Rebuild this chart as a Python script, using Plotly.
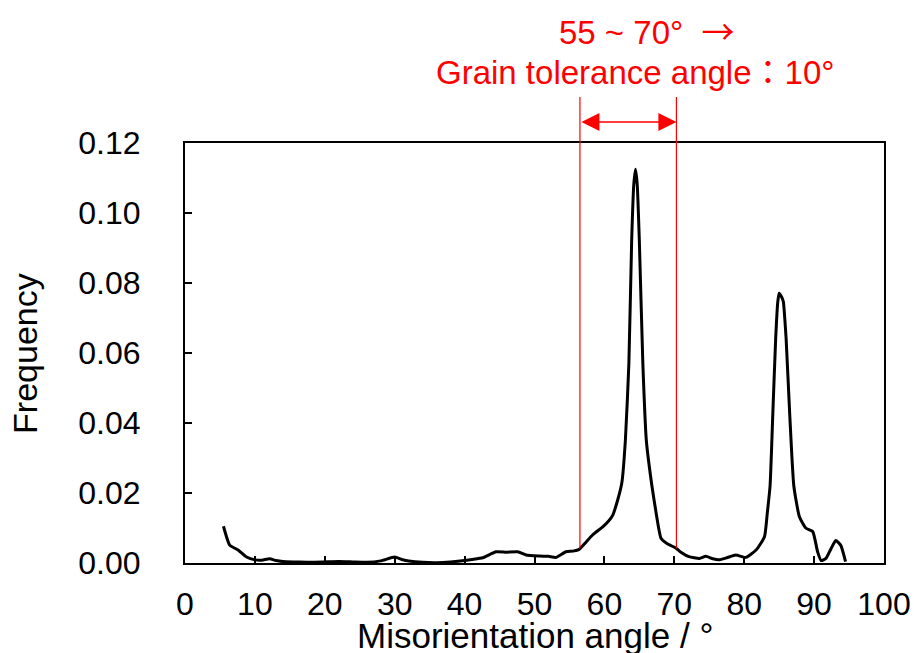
import numpy as np
import plotly.graph_objects as go

angle = [5.5, 6.4, 7.6, 8.8, 10, 11, 12.1, 13, 14, 16, 18, 20, 22, 24, 26, 28, 30, 31, 32, 34, 36, 38,
         40, 41, 42.6, 44.5, 46, 47.6, 48.8, 50.7, 52, 53.1, 54.5, 55.5, 56.4, 57.3, 58.3, 59.8, 60.6,
         61.2, 61.9, 62.5, 63.0, 63.5, 63.9, 64.2, 64.45, 64.7, 65.0, 65.5, 66.0, 66.8, 67.4, 68.1, 69.0,
         70.2, 71.0, 72.1, 73.6, 74.5, 75.5, 76.4, 77.5, 78.8, 80.2, 81.7, 82.9, 83.3, 83.7, 84.1, 84.5,
         84.8, 85.0, 85.3, 85.6, 85.8, 86.0, 86.5, 87.1, 87.9, 88.8, 89.8, 90.5, 91.0, 91.7, 92.4, 93.1,
         93.8, 94.5]
frequency = [0.0105, 0.0051, 0.0037, 0.0017, 0.0009, 0.0008, 0.0012, 0.0007, 0.0004, 0.0003, 0.0002,
             0.0003, 0.0004, 0.0003, 0.0002, 0.0006, 0.0017, 0.0010, 0.0006, 0.0002, 0.0001, 0.0003,
             0.0007, 0.0010, 0.0015, 0.0032, 0.0031, 0.0032, 0.0023, 0.0020, 0.0019, 0.0016, 0.0032,
             0.0034, 0.0039, 0.0058, 0.0080, 0.0104, 0.0120, 0.0137, 0.0180, 0.0230, 0.0350, 0.0570,
             0.0920, 0.1080, 0.1125, 0.1080, 0.0920, 0.0570, 0.0350, 0.0220, 0.0143, 0.0071, 0.0055,
             0.0043, 0.0030, 0.0018, 0.0013, 0.0019, 0.0012, 0.0009, 0.0015, 0.0023, 0.0016, 0.0037,
             0.0075, 0.0142, 0.0220, 0.0430, 0.0640, 0.0745, 0.0771, 0.0762, 0.0747, 0.0700, 0.0640,
             0.0430, 0.0220, 0.0132, 0.0100, 0.0090, 0.0032, 0.0007, 0.0013, 0.0040, 0.0064, 0.0051,
             0.0004]

range_lo, range_hi = 56.5, 70.3
x_ticks = list(range(0, 101, 10))
y_ticks = [0.00, 0.02, 0.04, 0.06, 0.08, 0.10, 0.12]

FONT = "Liberation Sans, Arial, Noto Sans CJK JP, sans-serif"

fig = go.Figure()
fig.add_trace(go.Scatter(x=angle, y=frequency, mode="lines",
                         line=dict(color="black", width=3, shape="spline", smoothing=0.5),
                         showlegend=False, hoverinfo="skip"))

for xv in (range_lo, range_hi):
    yb = float(np.interp(xv, angle, frequency))
    fig.add_shape(type="line", xref="x", yref="y", x0=xv, x1=xv, y0=yb, y1=0.12,
                  line=dict(color="#ff0000", width=1.2))
    fig.add_shape(type="line", xref="x", yref="paper", x0=xv, x1=xv, y0=1, y1=1.1095,
                  line=dict(color="#ff0000", width=1.2))

fig.add_annotation(x=range_hi, y=1.05, xref="x", yref="paper",
                   ax=range_lo, ay=0, axref="x", ayref="pixel",
                   showarrow=True, arrowhead=2, arrowside="end+start",
                   arrowsize=2.4, arrowwidth=1.5, arrowcolor="#ff0000", text="")

fig.add_annotation(x=0.661, y=1.269, xref="paper", yref="paper",
                   text="55 ~ 70°\u00a0\u00a0<span style=\"font-family:'Noto Sans CJK JP'\">→</span>",
                   showarrow=False,
                   font=dict(family=FONT, size=33, color="#ff0000"), xanchor="center", yanchor="middle")
fig.add_annotation(x=0.644, y=1.169, xref="paper", yref="paper",
                   text="Grain tolerance angle：10°", showarrow=False,
                   font=dict(family=FONT, size=33, color="#ff0000"), xanchor="center", yanchor="middle")

fig.add_annotation(x=0.5, y=-0.1738, xref="paper", yref="paper",
                   text="Misorientation angle / °", showarrow=False,
                   font=dict(family=FONT, size=35, color="black"), xanchor="center", yanchor="middle")
fig.add_annotation(x=-0.229, y=0.5, xref="paper", yref="paper",
                   text="Frequency", showarrow=False, textangle=-90,
                   font=dict(family=FONT, size=34, color="black"), xanchor="center", yanchor="middle")

fig.update_layout(
    width=914, height=653,
    margin=dict(l=185, r=30, t=143, b=90, autoexpand=False),
    paper_bgcolor="white", plot_bgcolor="white",
    font=dict(family=FONT, size=32, color="black"),
)
fig.update_xaxes(range=[0, 100], tickvals=x_ticks, ticks="inside", ticklen=7, tickwidth=2,
                 tickcolor="black", showline=True, linecolor="black", linewidth=2, mirror=True,
                 showgrid=False, zeroline=False, ticklabelstandoff=12, ticklabeloverflow="allow",
                 automargin=False)
fig.update_yaxes(range=[0, 0.12], tickvals=y_ticks, tickformat=".2f", ticks="inside", ticklen=7,
                 tickwidth=2, tickcolor="black", showline=True, linecolor="black", linewidth=2,
                 mirror=True, showgrid=False, zeroline=False, ticklabelstandoff=36, automargin=False)

fig.write_html(
    "out.html",
    config={"displayModeBar": False},
    post_script="document.documentElement.style.overflow='hidden';"
                "document.body.style.margin='0';document.body.style.overflow='hidden';",
)
